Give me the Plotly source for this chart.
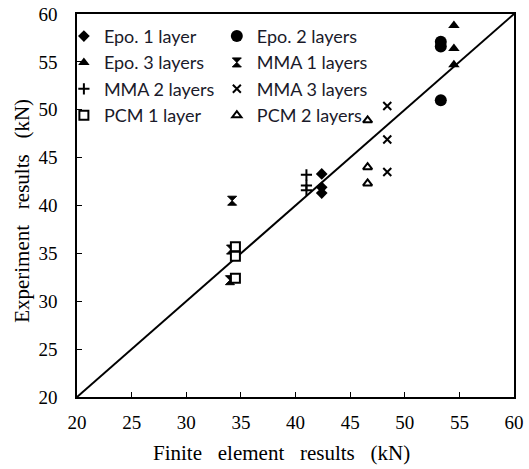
import plotly.graph_objects as go

# Finite element prediction (x) vs. measured capacity (y), kN
epo1_fe = [42.4, 42.4, 42.4]
epo1_exp = [43.3, 41.9, 41.3]
epo2_fe = [53.3, 53.3, 53.3]
epo2_exp = [57.1, 56.6, 51.0]
epo3_fe = [54.5, 54.5, 54.5]
epo3_exp = [58.8, 56.4, 54.7]
mma1_fe = [34.2, 34.1, 34.0]
mma1_exp = [40.5, 35.4, 32.2]
mma2_fe = [41.0, 41.0, 41.0]
mma2_exp = [43.2, 42.1, 41.6]
mma3_fe = [48.4, 48.4, 48.4]
mma3_exp = [50.4, 46.9, 43.5]
pcm1_fe = [34.5, 34.5, 34.5]
pcm1_exp = [35.7, 34.7, 32.4]
pcm2_fe = [46.6, 46.6, 46.6]
pcm2_exp = [48.9, 44.0, 42.3]

axis_range = [20, 60]
tick_vals = [20, 25, 30, 35, 40, 45, 50, 55, 60]

x_title = "Finite\u2002\u2005element\u2002\u2005results\u2002\u2005(kN)"
y_title = "Experiment\u2002\u2005results\u2002\u2005(kN)"

SERIF = "'Liberation Serif', 'Times New Roman', serif"
SANS = "Lato, 'Open Sans', sans-serif"

fig = go.Figure()

# 1:1 reference line
fig.add_trace(go.Scatter(x=axis_range, y=axis_range, mode="lines",
                         line=dict(color="black", width=2),
                         showlegend=False, hoverinfo="skip"))

series = [
    # name, x, y, symbol, size, legend column
    ("Epo. 1 layer", epo1_fe, epo1_exp, "diamond", 9, "legend"),
    ("Epo. 2 layers", epo2_fe, epo2_exp, "circle", 12, "legend2"),
    ("Epo. 3 layers", epo3_fe, epo3_exp, "triangle-up", 10, "legend"),
    ("MMA 1 layers", mma1_fe, mma1_exp, "hourglass", 9, "legend2"),
    ("MMA 2 layers", mma2_fe, mma2_exp, "cross-thin", 8, "legend"),
    ("MMA 3 layers", mma3_fe, mma3_exp, "x-thin", 8, "legend2"),
    ("PCM 1 layer", pcm1_fe, pcm1_exp, "square-open", 9, "legend"),
    ("PCM 2 layers", pcm2_fe, pcm2_exp, "triangle-up-open", 8, "legend2"),
]

for name, xs, ys, sym, size, leg in series:
    marker = dict(symbol=sym, size=size, color="black",
                  line=dict(color="black", width=2))
    if sym == "square-open":
        marker = dict(symbol="square", size=size, color="white",
                      line=dict(color="black", width=2))
    if sym == "triangle-up-open":
        marker = dict(symbol="triangle-up", size=size, color="white",
                      line=dict(color="black", width=2))
    if sym in ("diamond", "circle", "triangle-up"):
        marker["line"] = dict(color="black", width=0)
    if sym == "hourglass":
        marker["line"] = dict(color="black", width=1)
    fig.add_trace(go.Scatter(x=xs, y=ys, mode="markers", name=name,
                             marker=marker, legend=leg, legendgroup=name))

legend_common = dict(
    font=dict(family=SANS, size=18, color="#1a1a2a"),
    bgcolor="rgba(0,0,0,0)", borderwidth=0,
    tracegroupgap=0, itemwidth=30,
    yanchor="top", xanchor="left",
)

axis_common = dict(
    range=axis_range, tickvals=tick_vals, automargin=False,
    showgrid=False, zeroline=False,
    showline=True, linecolor="black", linewidth=1.5, mirror=True,
    ticks="inside", ticklen=5, tickcolor="black", tickwidth=1,
    tickfont=dict(family=SERIF, size=19, color="black"),
)

fig.update_layout(
    width=529, height=469,
    margin=dict(l=77, r=15, t=14, b=72, autoexpand=False),
    paper_bgcolor="white", plot_bgcolor="white",
    font=dict(family=SERIF, color="black"),
    legend=dict(x=-0.03, y=0.99, **legend_common),
    legend2=dict(x=0.32, y=0.99, **legend_common),
    xaxis=dict(**axis_common, ticklabelstandoff=7),
    yaxis=dict(**axis_common, ticklabelstandoff=14),
    annotations=[
        dict(text=x_title, xref="paper", yref="paper",
             x=(281 - 77) / 436, y=(397 - 453) / 383,
             xanchor="center", yanchor="middle", showarrow=False,
             font=dict(family=SERIF, size=21, color="black")),
        dict(text=y_title, xref="paper", yref="paper",
             x=(22 - 77) / 436, y=(397 - 211) / 383, textangle=-90,
             xanchor="center", yanchor="middle", showarrow=False,
             font=dict(family=SERIF, size=21, color="black")),
    ],
)

fig.write_html("out.html")
